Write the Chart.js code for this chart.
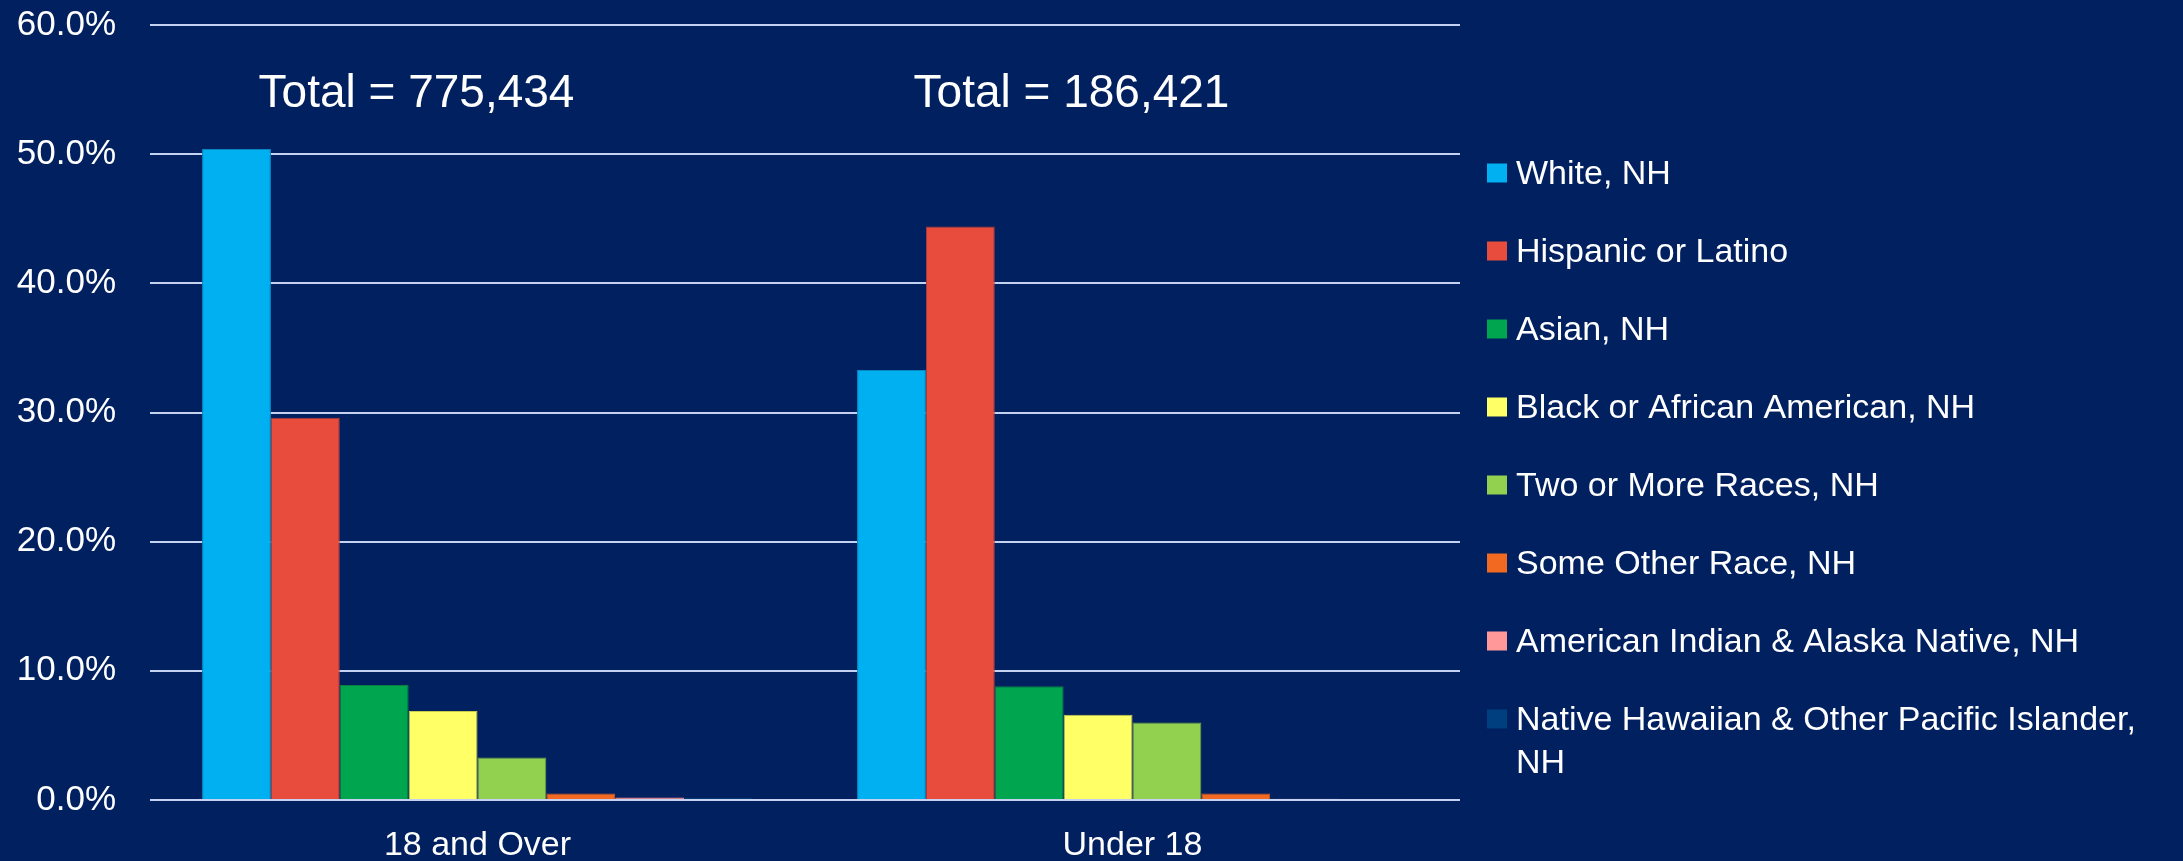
<!DOCTYPE html>
<html>
<head>
<meta charset="utf-8">
<title>Population by Race/Ethnicity and Age</title>
<script src="https://cdn.jsdelivr.net/npm/chart.js@4.4.0/dist/chart.umd.min.js"></script>
<style>
    html, body { margin: 0; padding: 0; background: #002060; }
    .chart-wrap { width: 2183px; height: 861px; }
</style>
</head>
<body>
<div class="chart-wrap"><canvas id="chart" width="2183" height="861"></canvas></div>
<script>
// --------------------------------------------------
//  Data (percent of total)
// --------------------------------------------------
var categories = ['18 and Over', 'Under 18'];
var totals = [775434, 186421];
var yTicks = [0, 10, 20, 30, 40, 50, 60];

var seriesNames = [
    'White, NH',
    'Hispanic or Latino',
    'Asian, NH',
    'Black or African American, NH',
    'Two or More Races, NH',
    'Some Other Race, NH',
    'American Indian & Alaska Native, NH',
    'Native Hawaiian & Other Pacific Islander, NH'
];

var white      = [50.4, 33.3];
var hispanic   = [29.6, 44.4];
var asian      = [8.9, 8.8];
var black      = [6.9, 6.6];
var twoOrMore  = [3.3, 6.0];
var otherRace  = [0.5, 0.5];
var amIndian   = [0.2, 0.1];
var nhpi       = [0.2, 0.1];

var seriesValues = [white, hispanic, asian, black, twoOrMore, otherRace, amIndian, nhpi];

// colors
var fills   = ['#00B0F0', '#E84C3D', '#00A64F', '#FFFF66', '#92D050', '#F26A22', '#FF9999', '#003F7F'];
var borders = ['#0a86c0', '#b03a3a', '#0b7d3e', '#c9c94a', '#6f9d3d', '#d85a1c', '#f08c8c', '#002f60'];

var FONT = '"Liberation Sans", Arial, sans-serif';

// --------------------------------------------------
//  Title + legend drawn on the canvas
// --------------------------------------------------
var overlayPlugin = {
    id: 'overlay',
    afterDraw: function (chart) {
        var c = chart.ctx;
        var area = chart.chartArea;
        var xs = chart.scales.x;
        c.save();

        // "Total = ..." labels above each group
        c.fillStyle = '#FFFFFF';
        c.font = '46px ' + FONT;
        c.textAlign = 'center';
        c.textBaseline = 'alphabetic';
        categories.forEach(function (cat, i) {
            var cx = xs.getPixelForValue(i) - 61;
            c.fillText('Total = ' + totals[i].toLocaleString('en-US'), cx, area.top + 82);
        });

        // legend on the right
        c.font = '34px ' + FONT;
        c.textAlign = 'left';
        c.textBaseline = 'middle';
        var boxX = area.right + 27;
        var textX = boxX + 29;
        var maxW = chart.width - textX - 8;
        var y = 174.5;
        chart.data.datasets.forEach(function (ds) {
            c.fillStyle = ds.backgroundColor;
            c.fillRect(boxX, y - 11, 20, 19);

            // simple word wrap
            var words = ds.label.split(' ');
            var lines = [];
            var line = '';
            words.forEach(function (w) {
                var test = line ? line + ' ' + w : w;
                if (c.measureText(test).width > maxW && line) {
                    lines.push(line);
                    line = w;
                } else {
                    line = test;
                }
            });
            lines.push(line);

            c.fillStyle = '#FFFFFF';
            lines.forEach(function (l, k) {
                c.fillText(l, textX, y + k * 43);
            });
            y += 78;
        });

        c.restore();
    }
};

// --------------------------------------------------
//  Chart
// --------------------------------------------------
var datasets = seriesNames.map(function (name, i) {
    return {
        label: name,
        data: seriesValues[i],
        backgroundColor: fills[i],
        borderColor: borders[i],
        borderWidth: 1,
        categoryPercentage: 0.841,
        barPercentage: 1.0
    };
});

var chart = new Chart(document.getElementById('chart').getContext('2d'), {
    type: 'bar',
    data: { labels: categories, datasets: datasets },
    plugins: [overlayPlugin],
    options: {
        responsive: false,
        animation: false,
        devicePixelRatio: 1,
        layout: { padding: { top: 25, right: 723, bottom: 0, left: 0 } },
        plugins: {
            legend: { display: false },
            tooltip: { enabled: false }
        },
        scales: {
            x: {
                grid: { display: false, drawTicks: false },
                border: { display: false },
                ticks: {
                    color: '#FFFFFF',
                    padding: 25,
                    font: { size: 34, family: FONT }
                },
                afterFit: function (scale) {
                    scale.height = 61;
                    scale.paddingLeft = 0;
                    scale.paddingRight = 0;
                }
            },
            y: {
                min: 0,
                max: 60,
                afterBuildTicks: function (scale) {
                    scale.ticks = yTicks.map(function (v) { return { value: v }; });
                },
                grid: {
                    color: '#C5D1F0',
                    lineWidth: 2,
                    drawTicks: false
                },
                border: { display: false },
                ticks: {
                    color: '#FFFFFF',
                    padding: 34,
                    font: { size: 35, family: FONT },
                    callback: function (value) { return value.toFixed(1) + '%'; }
                },
                afterFit: function (scale) {
                    scale.width = 150;
                    scale.paddingTop = 0;
                    scale.paddingBottom = 0;
                }
            }
        }
    }
});
</script>
</body>
</html>
